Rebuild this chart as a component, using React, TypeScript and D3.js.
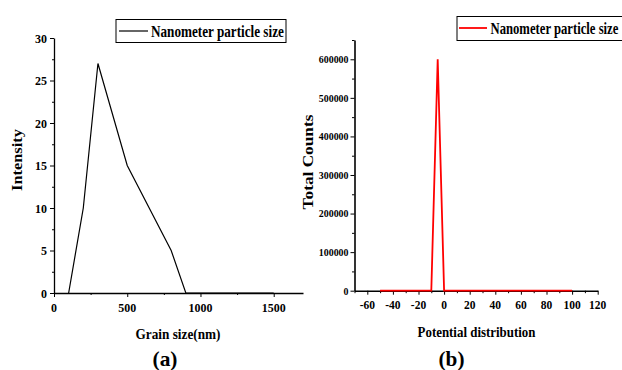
import { useEffect, useRef } from "react";
import * as d3 from "d3";

// (a) grain size distribution
const grainSize = [100, 200, 300, 500, 800, 900, 1000, 1200, 1500];
const intensity = [0, 10, 27, 15, 5, 0, 0, 0, 0];
const grainTicks = [0, 500, 1000, 1500];
const intensityTicks = [0, 5, 10, 15, 20, 25, 30];

// (b) zeta potential distribution
const potential = [-50, -40, -30, -20, -10, -5, 0, 10, 20, 30, 40, 50, 60, 70, 80, 90, 100];
const totalCounts = [0, 0, 0, 0, 0, 600000, 0, 0, 0, 0, 0, 0, 0, 0, 0, 0, 0];
const potentialTicks = [-60, -40, -20, 0, 20, 40, 60, 80, 100, 120];
const countTicks = [0, 100000, 200000, 300000, 400000, 500000, 600000];

const legendLabel = "Nanometer particle size";
const FONT = "Liberation Serif, Times New Roman, serif";

export default function App() {
  const svgRef = useRef<SVGSVGElement>(null);

  useEffect(() => {
    if (!svgRef.current) return;
    const svg = d3.select(svgRef.current);
    svg.selectAll("*").remove();

    // bold serif text, squeezed horizontally (scale sx, or fitted to width w)
    const addText = (
      x: number,
      y: number,
      text: string,
      size: number,
      opts: { anchor?: string; sx?: number; w?: number; rotate?: boolean } = {}
    ) => {
      const t = svg
        .append("text")
        .attr("font-family", FONT)
        .attr("font-weight", "bold")
        .attr("font-size", size)
        .attr("fill", "#000")
        .attr("text-anchor", opts.anchor ?? "middle")
        .text(text);
      let sx = opts.sx ?? 1;
      if (opts.w) {
        const len = (t.node() as SVGTextElement).getComputedTextLength();
        if (len > 0) sx = opts.w / len;
      }
      t.attr(
        "transform",
        `translate(${x},${y})${opts.rotate ? " rotate(-90)" : ""} scale(${sx},1)`
      );
      return t;
    };

    const tickAxis = (g: any, sw: number) => {
      g.select(".domain").attr("stroke", "#000").attr("stroke-width", sw);
      g.selectAll(".tick line").attr("stroke", "#000").attr("stroke-width", 1);
      g.selectAll(".tick text").remove();
    };

    // ---------- panel (a) ----------
    const xa = d3.scaleLinear().domain([0, 1700]).range([54, 303]);
    const ya = d3.scaleLinear().domain([0, 30]).range([293, 38]);

    const xaMinor = svg
      .append("g")
      .attr("transform", `translate(0,${ya(0)})`)
      .call(d3.axisBottom(xa).tickValues(d3.range(250, 1700, 500)).tickSize(2));
    xaMinor.select(".domain").remove();
    tickAxis(xaMinor, 0);

    const yaMinor = svg
      .append("g")
      .attr("transform", `translate(${xa(0)},0)`)
      .call(d3.axisLeft(ya).tickValues(d3.range(2.5, 30, 5)).tickSize(2));
    yaMinor.select(".domain").remove();
    tickAxis(yaMinor, 0);

    const xAxisA = svg
      .append("g")
      .attr("transform", `translate(0,${ya(0)})`)
      .call(d3.axisBottom(xa).tickValues(grainTicks).tickSize(4).tickSizeOuter(0));
    tickAxis(xAxisA, 1.3);
    grainTicks.forEach((v) => addText(xa(v), ya(0) + 19, String(v), 13, { sx: 0.92 }));

    const yAxisA = svg
      .append("g")
      .attr("transform", `translate(${xa(0)},0)`)
      .call(d3.axisLeft(ya).tickValues(intensityTicks).tickSize(4).tickSizeOuter(0));
    tickAxis(yAxisA, 1.3);
    intensityTicks.forEach((v) =>
      addText(xa(0) - 7, ya(v) + 4.5, String(v), 13, { anchor: "end", sx: 0.92 })
    );

    const lineA = d3
      .line<number>()
      .x((_, i) => xa(grainSize[i]))
      .y((d) => ya(d));
    svg
      .append("path")
      .attr("d", lineA(intensity))
      .attr("fill", "none")
      .attr("stroke", "#000")
      .attr("stroke-width", 1.2);

    // legend (a)
    svg
      .append("rect")
      .attr("x", 116)
      .attr("y", 19.5)
      .attr("width", 170)
      .attr("height", 23)
      .attr("fill", "#fff")
      .attr("stroke", "#000")
      .attr("stroke-width", 1);
    svg
      .append("line")
      .attr("x1", 119)
      .attr("x2", 148)
      .attr("y1", 31)
      .attr("y2", 31)
      .attr("stroke", "#000")
      .attr("stroke-width", 1.2);
    addText(151, 36.5, legendLabel, 16, { anchor: "start", w: 133 });

    addText(178, 339, "Grain size(nm)", 14.5, { w: 85 });
    addText(22, 160, "Intensity", 15, { w: 62, rotate: true });
    addText(165, 365.5, "(a)", 21, { w: 25 });

    // ---------- panel (b) ----------
    const xb = d3.scaleLinear().domain([-70, 120]).range([354.5, 597.7]);
    const yb = d3.scaleLinear().domain([0, 650000]).range([290.7, 40]);

    const xbMinor = svg
      .append("g")
      .attr("transform", `translate(0,${yb(0)})`)
      .call(d3.axisBottom(xb).tickValues(d3.range(-70, 120, 20)).tickSize(2.5));
    xbMinor.select(".domain").remove();
    tickAxis(xbMinor, 0);

    const ybMinor = svg
      .append("g")
      .attr("transform", `translate(${xb(-70)},0)`)
      .call(d3.axisLeft(yb).tickValues(d3.range(50000, 660000, 100000)).tickSize(2.5));
    ybMinor.select(".domain").remove();
    tickAxis(ybMinor, 0);

    const xAxisB = svg
      .append("g")
      .attr("transform", `translate(0,${yb(0)})`)
      .call(d3.axisBottom(xb).tickValues(potentialTicks).tickSize(4).tickSizeOuter(0));
    tickAxis(xAxisB, 1.6);
    potentialTicks.forEach((v) =>
      addText(xb(v), yb(0) + 18.5, String(v), 12.5, { sx: 0.92 })
    );

    const yAxisB = svg
      .append("g")
      .attr("transform", `translate(${xb(-70)},0)`)
      .call(d3.axisLeft(yb).tickValues(countTicks).tickSize(4).tickSizeOuter(0));
    tickAxis(yAxisB, 1.6);
    countTicks.forEach((v) =>
      addText(xb(-70) - 6, yb(v) + 3.8, String(v), 11, { anchor: "end", sx: 0.9 })
    );

    const lineB = d3
      .line<number>()
      .x((_, i) => xb(potential[i]))
      .y((d) => yb(d));
    svg
      .append("path")
      .attr("d", lineB(totalCounts))
      .attr("fill", "none")
      .attr("stroke", "#ff0000")
      .attr("stroke-width", 1.8);

    // legend (b)
    svg
      .append("rect")
      .attr("x", 457)
      .attr("y", 16.5)
      .attr("width", 170)
      .attr("height", 24)
      .attr("fill", "#fff")
      .attr("stroke", "#000")
      .attr("stroke-width", 1);
    svg
      .append("line")
      .attr("x1", 459)
      .attr("x2", 487)
      .attr("y1", 28)
      .attr("y2", 28)
      .attr("stroke", "#ff0000")
      .attr("stroke-width", 1.8);
    addText(490.5, 33.5, legendLabel, 16, { anchor: "start", w: 128 });

    addText(476.5, 337, "Potential distribution", 15, { w: 118 });
    addText(313, 162, "Total Counts", 15, { w: 95, rotate: true });
    addText(451.5, 365.5, "(b)", 21, { w: 26 });
  }, []);

  return (
    <svg
      ref={svgRef}
      width={622}
      height={370}
      style={{ position: "absolute", left: 0, top: 0, background: "#fff" }}
    />
  );
}
